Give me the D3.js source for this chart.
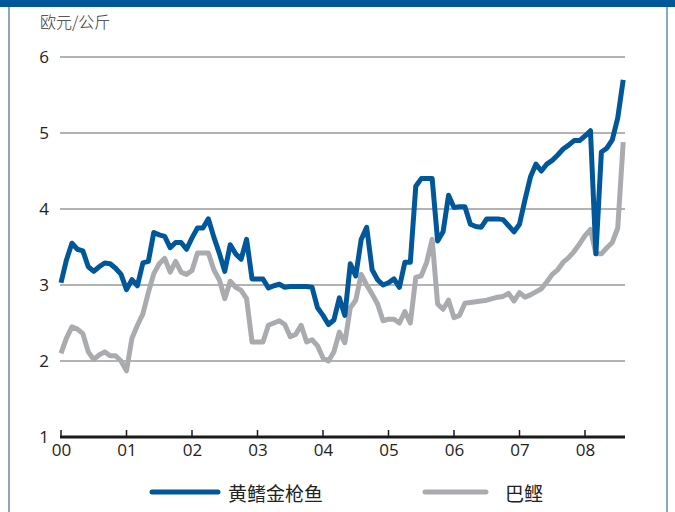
<!DOCTYPE html>
<html><head><meta charset="utf-8">
<script src="https://cdn.jsdelivr.net/npm/d3@7"></script>
<style>body{margin:0;background:#fff}svg{display:block}</style>
</head><body>
<svg id="c" width="675" height="512"></svg>
<script>
// Monthly data, Jan 2000 .. Aug 2008
const startYear = 2000;
const yellowfin = [3.03,3.33,3.55,3.47,3.45,3.24,3.18,3.24,3.29,3.28,3.22,3.14,
2.94,3.07,2.99,3.29,3.31,3.69,3.66,3.64,3.49,3.56,3.56,3.47,
3.62,3.75,3.75,3.87,3.63,3.42,3.18,3.53,3.41,3.34,3.60,3.08,
3.08,3.08,2.96,2.99,3.01,2.97,2.98,2.98,2.98,2.98,2.97,2.70,
2.60,2.48,2.54,2.83,2.60,3.28,3.12,3.60,3.76,3.20,3.07,3.00,
3.03,3.08,2.97,3.30,3.30,4.30,4.40,4.40,4.40,3.58,3.70,4.18,
4.02,4.03,4.03,3.80,3.77,3.76,3.87,3.87,3.87,3.86,3.78,3.70,
3.80,4.12,4.42,4.59,4.50,4.59,4.64,4.71,4.79,4.84,4.90,4.90,
4.96,5.03,3.41,4.75,4.80,4.91,5.20,5.70];
const skipjack = [2.10,2.30,2.45,2.42,2.36,2.12,2.02,2.08,2.12,2.07,2.07,2.00,
1.87,2.30,2.47,2.62,2.90,3.15,3.28,3.35,3.17,3.31,3.17,3.14,
3.19,3.42,3.42,3.42,3.20,3.07,2.82,3.05,2.97,2.93,2.82,2.25,
2.25,2.25,2.47,2.50,2.53,2.48,2.32,2.35,2.47,2.25,2.28,2.20,
2.04,2.00,2.12,2.38,2.24,2.70,2.80,3.14,3.00,2.88,2.75,2.53,
2.55,2.55,2.50,2.65,2.50,3.10,3.12,3.30,3.60,2.75,2.68,2.80,
2.57,2.60,2.76,2.77,2.78,2.79,2.80,2.82,2.84,2.85,2.89,2.79,
2.90,2.84,2.87,2.91,2.95,3.04,3.14,3.20,3.30,3.36,3.44,3.54,
3.65,3.73,3.41,3.41,3.49,3.56,3.75,4.88];
const yTicks = [1,2,3,4,5,6];
const xTickYears = [2000,2001,2002,2003,2004,2005,2006,2007,2008];
const xTickLabels = ["00","01","02","03","04","05","06","07","08"];
const seriesNames = ["黄鳍金枪鱼","巴鲣"];
const unitLabel = "欧元/公斤";

const blue = "#00579a", gray = "#a9abae";
const svg = d3.select("#c");

// frame
svg.append("rect").attr("x",0).attr("y",0).attr("width",675).attr("height",7).attr("fill",blue);
svg.append("line").attr("x1",9).attr("x2",9).attr("y1",7).attr("y2",512).attr("stroke","#8aa6c4").attr("stroke-width",2);
svg.append("line").attr("x1",667).attr("x2",667).attr("y1",7).attr("y2",512).attr("stroke","#8aa6c4").attr("stroke-width",2);

const x = d3.scaleLinear().domain([2000, 2000 + 564/65.5]).range([61, 625]);
const y = d3.scaleLinear().domain([1,6]).range([437,57]);
const t = i => startYear + i/12;

// gridlines
svg.append("g").selectAll("line").data(yTicks.filter(v=>v>1)).join("line")
  .attr("x1",60).attr("x2",625).attr("y1",d=>y(d)).attr("y2",d=>y(d))
  .attr("stroke","#9a9a9a").attr("stroke-width",1.5);

// y labels
svg.append("g").selectAll("text").data(yTicks).join("text")
  .attr("x",49).attr("y",d=>y(d)-1).attr("text-anchor","end").attr("dominant-baseline","central")
  .attr("font-family","'Open Sans','Noto Sans',sans-serif").attr("font-size",17).attr("fill","#222")
  .text(d=>d);

// x axis
const xAxis = d3.axisBottom(x).tickValues(xTickYears).tickSize(0).tickFormat((d,i)=>xTickLabels[i]);
const ax = svg.append("g").attr("transform","translate(0,437)").call(xAxis);
ax.select(".domain").remove();
ax.selectAll("text").attr("font-family","'Open Sans','Noto Sans',sans-serif").attr("font-size",17).attr("fill","#222").attr("dy","0.95em");
svg.append("line").attr("x1",60).attr("x2",625).attr("y1",437).attr("y2",437).attr("stroke","#1a1a1a").attr("stroke-width",3);
svg.append("g").selectAll("line").data(xTickYears).join("line")
  .attr("x1",d=>x(d)).attr("x2",d=>x(d)).attr("y1",437).attr("y2",430)
  .attr("stroke","#1a1a1a").attr("stroke-width",1.5);

// lines
const line = d3.line().x((d,i)=>x(t(i))).y(d=>y(d));
svg.append("path").datum(skipjack).attr("d",line).attr("fill","none").attr("stroke",gray).attr("stroke-width",5).attr("stroke-linejoin","round");
svg.append("path").datum(yellowfin).attr("d",line).attr("fill","none").attr("stroke",blue).attr("stroke-width",5).attr("stroke-linejoin","round");

// unit label
svg.append("text").attr("x",40).attr("y",28).attr("font-family","'Noto Sans CJK SC',sans-serif").attr("font-weight",300).attr("font-size",16).attr("fill","#333").text(unitLabel);

// legend
const lg = svg.append("g");
const legendItems = [{name:seriesNames[0],color:blue,x1:152,x2:218,tx:228},{name:seriesNames[1],color:gray,x1:425,x2:486,tx:505}];
legendItems.forEach(d=>{
  lg.append("line").attr("x1",d.x1).attr("x2",d.x2).attr("y1",492).attr("y2",492).attr("stroke",d.color).attr("stroke-width",5).attr("stroke-linecap","round");
  lg.append("text").attr("x",d.tx).attr("y",492).attr("dominant-baseline","central").attr("font-family","'Noto Sans CJK SC',sans-serif").attr("font-size",19).attr("fill","#222").text(d.name);
});
</script>
</body></html>
